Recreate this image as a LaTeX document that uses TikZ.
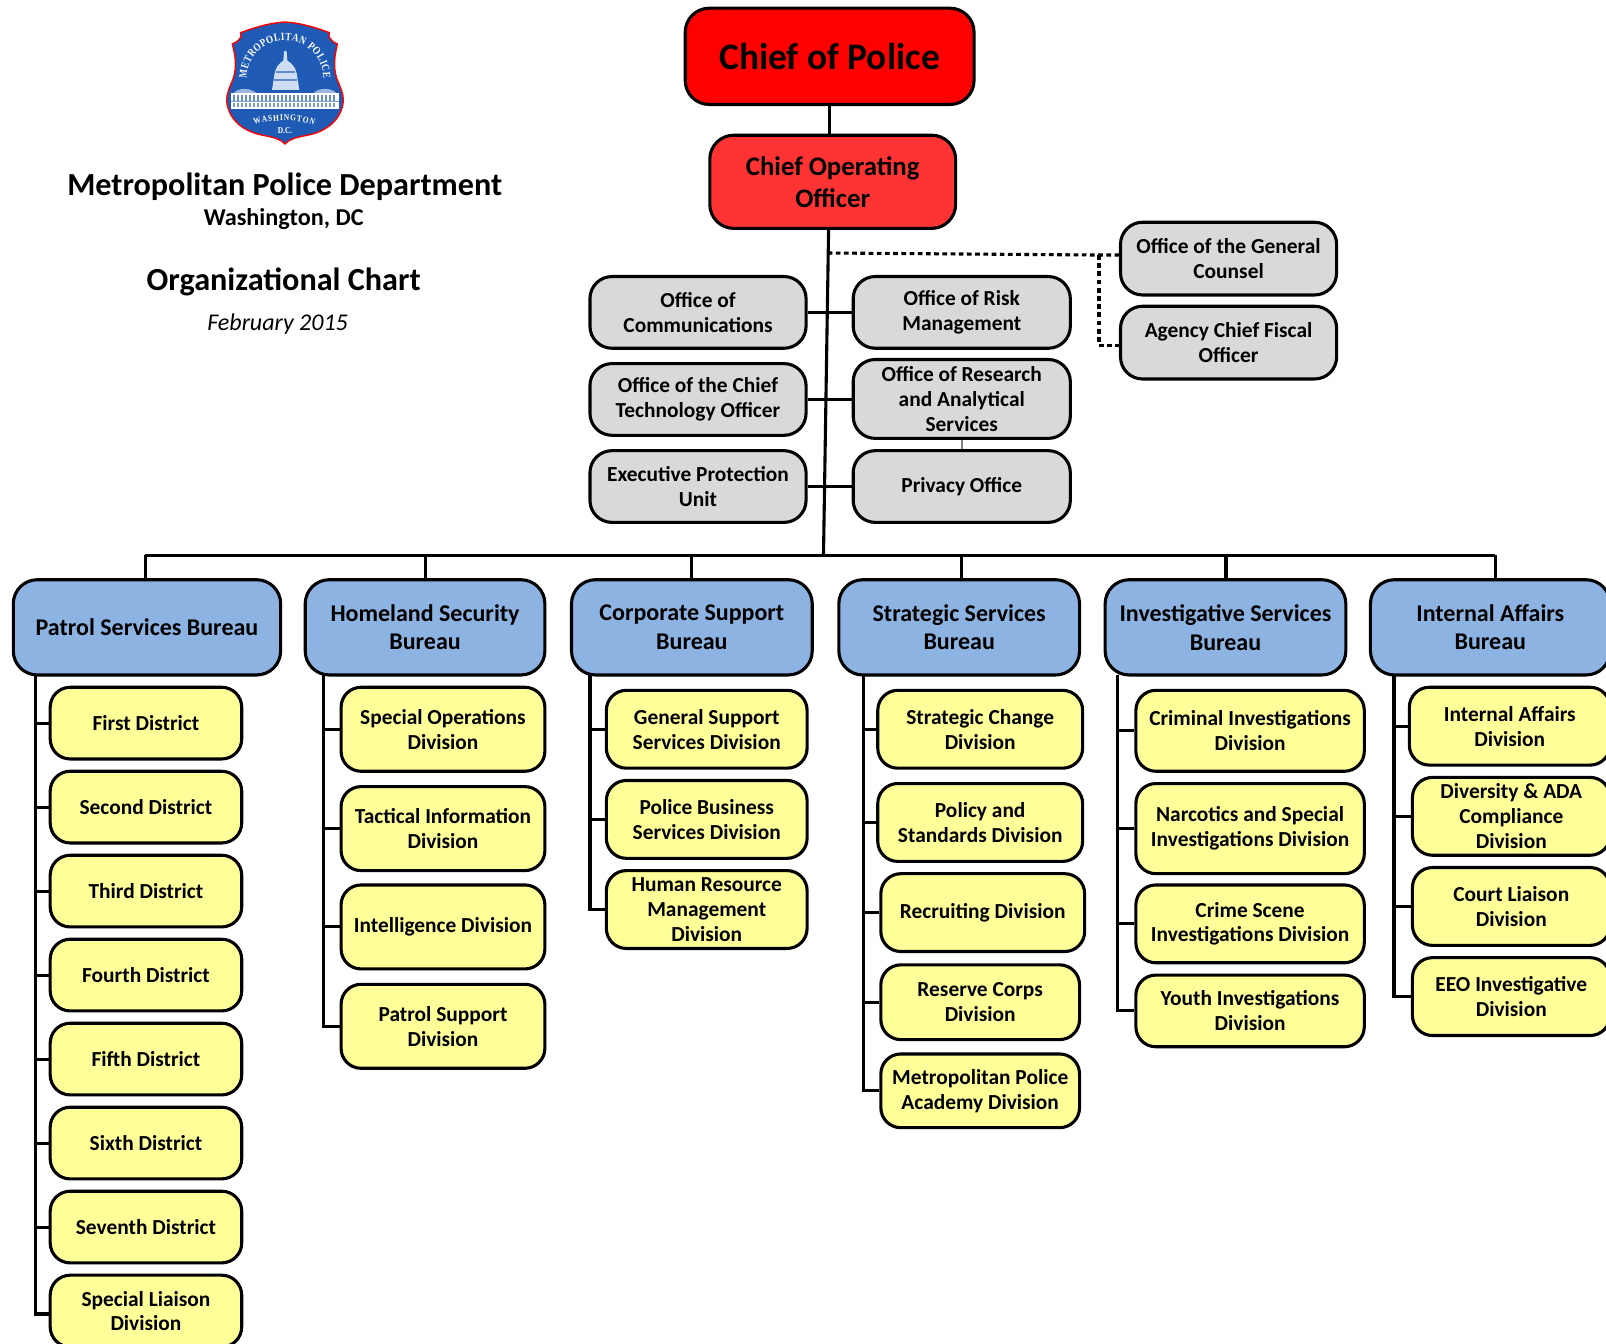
\documentclass[tikz,border=0pt]{standalone}
\usepackage{fontspec}
\setmainfont{Carlito}
\newfontfamily\serifB[FakeStretch=0.82]{Liberation Serif}
\usetikzlibrary{decorations.text}
\definecolor{copred}{HTML}{FF0000}
\definecolor{coored}{HTML}{FF3333}
\definecolor{offgray}{HTML}{D9D9D9}
\definecolor{burblue}{HTML}{8DB3E2}
\definecolor{divyel}{HTML}{FFFF99}
\definecolor{shieldblue}{HTML}{1F5BB5}
\definecolor{shieldpale}{HTML}{CFDDF2}
\tikzset{
 orgbox/.style={draw=black,line width=3.1pt,align=center,inner sep=0pt,font=\bfseries\fontsize{21.4}{24.8}\selectfont},
 cop/.style={orgbox,fill=copred,rounded corners=24pt,font=\bfseries\fontsize{37.4}{40}\selectfont},
 coo/.style={orgbox,fill=coored,rounded corners=24pt,font=\bfseries\fontsize{26.8}{32}\selectfont},
 graybox/.style={orgbox,fill=offgray,rounded corners=22pt},
 burbox/.style={orgbox,fill=burblue,rounded corners=24pt,font=\bfseries\fontsize{24}{28.6}\selectfont},
 yelbox/.style={orgbox,fill=divyel,rounded corners=20pt},
 link/.style={draw=black,line width=3.1pt},
 dashlink/.style={draw=black,line width=3.1pt,dash pattern=on 4.7pt off 3.5pt},
 thinlink/.style={draw=gray,line width=1.6pt},
 titletext/.style={inner sep=0pt,align=center},
 logotext/.style={white},
}
\newcommand{\bx}[7]{%
 \pgfmathsetmacro{\bxw}{(#5-#3)*1.02423}%
 \pgfmathsetmacro{\bxh}{(#6-#4)*1.02423}%
 \pgfmathsetmacro{\bxx}{(#3+#5)/2}%
 \pgfmathsetmacro{\bxy}{(#4+#6)/2}%
 \node[#2,minimum width=\bxw pt,minimum height=\bxh pt] (#1) at (\bxx,\bxy) {#7};}
\newcommand{\lowtxt}[1]{\raisebox{-2pt}{#1}}
\begin{document}
\begin{tikzpicture}[x=1.02423pt,y=-1.02423pt]
\path[use as bounding box] (0,0) rectangle (1568,1312);
\clip (0,0) rectangle (1568,1312);
% coordinates
\coordinate (trunkTop) at (809,223);
\coordinate (trunkBot) at (804,542);
\coordinate (barL) at (142,542);
\coordinate (barR) at (1460,542);
\coordinate (dashA) at (808,247);
\coordinate (dashB) at (1073,249);
\coordinate (dashC) at (1073,337);
\coordinate (busP) at (35,659);
\coordinate (busH) at (316,659);
\coordinate (busC) at (576,659);
\coordinate (busS) at (843,659);
\coordinate (busV) at (1091,659);
\coordinate (busI) at (1361,659);
% links drawn first (boxes on top)
\draw[link] (trunkTop) -- (trunkBot);
\draw[link] (810,102) -- (810,132);
\draw[link] (barL) -- (barR);
\foreach \dx in {142,415,675,939,1197,1460}{\draw[link] (\dx,542) -- (\dx,566);}
\draw[dashlink] (dashA) -- (dashB) -- (1094,249);
\draw[dashlink] (dashB) -- (dashC) -- (1094,337);
% boxes
\bx{chief}{cop}{669}{8}{951}{102}{Chief of Police}
\bx{coop}{coo}{693}{132}{933}{223}{Chief Operating\\Officer}
\bx{ogc}{graybox}{1094}{217}{1305}{288}{Office of the General\\Counsel}
\bx{cfo}{graybox}{1094}{299}{1305}{370}{Agency Chief Fiscal\\Officer}
\bx{comm}{graybox}{576}{270}{787}{340}{Office of\\Communications}
\bx{risk}{graybox}{833}{270}{1045}{340}{Office of Risk\\Management}
\bx{cto}{graybox}{576}{355}{787}{425}{Office of the Chief\\Technology Officer}
\bx{research}{graybox}{833}{351}{1045}{428}{Office of Research\\and Analytical\\Services}
\bx{exec}{graybox}{576}{440}{787}{510}{Executive Protection\\Unit}
\bx{privacy}{graybox}{833}{440}{1045}{510}{\lowtxt{Privacy Office}}
\draw[link] (comm.east) -- (risk.west);
\draw[link] (cto.east) -- (cto.east -| risk.west);
\draw[link] (exec.east) -- (privacy.west);
\draw[thinlink] (research.south) -- (privacy.north);
% bureaus
\bx{bP}{burbox}{13}{566}{274}{659}{Patrol Services Bureau}
\bx{bH}{burbox}{298}{566}{532}{659}{Homeland Security\\Bureau}
\bx{bC}{burbox}{558}{566}{793}{659}{Corporate Support\\Bureau}
\bx{bS}{burbox}{819}{566}{1054}{659}{Strategic Services\\Bureau}
\bx{bV}{burbox}{1079}{566}{1314}{659}{Investigative Services\\Bureau}
\bx{bI}{burbox}{1338}{566}{1572}{659}{Internal Affairs\\Bureau}
% divisions: patrol
\bx{p1}{yelbox}{49}{671}{236}{741}{First District}
\bx{p2}{yelbox}{49}{753}{236}{823}{Second District}
\bx{p3}{yelbox}{49}{835}{236}{905}{Third District}
\bx{p4}{yelbox}{49}{917}{236}{987}{Fourth District}
\bx{p5}{yelbox}{49}{999}{236}{1069}{Fifth District}
\bx{p6}{yelbox}{49}{1081}{236}{1151}{Sixth District}
\bx{p7}{yelbox}{49}{1163}{236}{1233}{Seventh District}
\bx{p8}{yelbox}{49}{1245}{236}{1315}{Special Liaison\\Division}
\coordinate (p8in) at ([yshift=-3pt]p8.west);
\draw[link] (busP) -- (busP |- p8in) -- (p8in);
\foreach \n in {p1,p2,p3,p4,p5,p6,p7}{\draw[link] (\n.west) -- (\n.west -| busP);}
% homeland
\bx{h1}{yelbox}{333}{671}{532}{753}{Special Operations\\Division}
\bx{h2}{yelbox}{333}{768}{532}{850}{Tactical Information\\Division}
\bx{h3}{yelbox}{333}{864}{532}{946}{\lowtxt{Intelligence Division}}
\bx{h4}{yelbox}{333}{961}{532}{1043}{Patrol Support\\Division}
\draw[link] (busH) -- (busH |- h4.west) -- (h4.west);
\foreach \n in {h1,h2,h3}{\draw[link] (\n.west) -- (\n.west -| busH);}
% corporate
\bx{c1}{yelbox}{592}{674}{788}{750}{General Support\\Services Division}
\bx{c2}{yelbox}{592}{762}{788}{838}{Police Business\\Services Division}
\bx{c3}{yelbox}{592}{850}{788}{926}{Human Resource\\Management\\Division}
\draw[link] (busC) -- (busC |- c3.west) -- (c3.west);
\foreach \n in {c1,c2}{\draw[link] (\n.west) -- (\n.west -| busC);}
% strategic
\bx{s1}{yelbox}{857}{674}{1057}{750}{Strategic Change\\Division}
\bx{s2}{yelbox}{857}{765}{1057}{841}{Policy and\\Standards Division}
\bx{s3}{yelbox}{860}{853}{1059}{929}{\lowtxt{Recruiting Division}}
\bx{s4}{yelbox}{860}{942}{1054}{1015}{Reserve Corps\\Division}
\bx{s5}{yelbox}{860}{1029}{1054}{1101}{Metropolitan Police\\Academy Division}
\draw[link] (busS) -- (busS |- s5.west) -- (s5.west);
\foreach \n in {s1,s2,s3,s4}{\draw[link] (\n.west) -- (\n.west -| busS);}
% investigative
\bx{v1}{yelbox}{1109}{674}{1332}{753}{Criminal Investigations\\Division}
\bx{v2}{yelbox}{1109}{765}{1332}{853}{Narcotics and Special\\Investigations Division}
\bx{v3}{yelbox}{1109}{864}{1332}{940}{Crime Scene\\Investigations Division}
\bx{v4}{yelbox}{1109}{952}{1332}{1022}{Youth Investigations\\Division}
\draw[link] (busV) -- (busV |- v4.west) -- (v4.west);
\foreach \n in {v1,v2,v3}{\draw[link] (\n.west) -- (\n.west -| busV);}
% internal affairs
\bx{i1}{yelbox}{1376}{671}{1572}{747}{Internal Affairs\\Division}
\bx{i2}{yelbox}{1379}{759}{1572}{835}{Diversity \& ADA\\Compliance\\Division}
\bx{i3}{yelbox}{1379}{847}{1572}{923}{Court Liaison\\Division}
\bx{i4}{yelbox}{1379}{935}{1572}{1011}{EEO Investigative\\Division}
\draw[link] (busI) -- (busI |- i4.west) -- (i4.west);
\foreach \n in {i1,i2,i3}{\draw[link] (\n.west) -- (\n.west -| busI);}
% titles
\node[titletext,font=\bfseries\fontsize{32.2}{36}\selectfont] (t1) at (278,182) {Metropolitan Police Department};
\node[titletext,font=\bfseries\fontsize{24.2}{28}\selectfont] (t2) at (277,214) {Washington, DC};
\node[titletext,font=\bfseries\fontsize{32.2}{36}\selectfont] (t3) at (277,275) {Organizational Chart};
\node[titletext,font=\itshape\fontsize{24}{28}\selectfont] (t4) at (271,316) {February 2015};
% logo, in units of the 3x crop
\begin{scope}[shift={(200pt,0pt)},x=0.33333pt,y=-0.33333pt]
 \path[fill=shieldblue,draw=red,line width=1.4pt]
  (255,66) .. controls (215,68) and (170,80) .. (122,98)
  .. controls (128,112) and (115,125) .. (97,132)
  .. controls (105,165) and (112,195) .. (100,235)
  .. controls (90,260) and (80,280) .. (80,300)
  .. controls (82,345) and (115,395) .. (200,408)
  .. controls (225,413) and (245,420) .. (255,432)
  .. controls (265,420) and (285,413) .. (310,408)
  .. controls (395,395) and (428,345) .. (430,300)
  .. controls (430,280) and (420,260) .. (410,235)
  .. controls (398,195) and (405,165) .. (412,132)
  .. controls (395,125) and (382,112) .. (388,98)
  .. controls (340,80) and (295,68) .. (255,66) -- cycle;
 % capitol
 \fill[shieldpale] (216,270) -- (222,232) .. controls (225,200) and (240,188) .. (250,182) -- (252,155) -- (256,152) -- (260,155) -- (262,182) .. controls (275,188) and (290,205) .. (292,232) -- (298,270) -- cycle;
 \fill[shieldblue!70!white] (228,212) rectangle (284,218);
 \fill[shieldblue!70!white] (222,236) rectangle (292,244);
 \fill[shieldpale!70!shieldblue] (100,280) .. controls (115,262) and (150,262) .. (170,280) -- cycle;
 \fill[shieldpale!70!shieldblue] (340,280) .. controls (355,262) and (395,262) .. (410,280) -- cycle;
 \fill[white] (92,280) rectangle (418,326);
 \foreach \sx in {100,112,...,408}{\fill[shieldblue!70!white] (\sx,285) rectangle ++(5,18); \fill[shieldblue!60!white] (\sx,310) rectangle ++(4,10);}
 \fill[shieldblue!60!white] (92,303) rectangle (418,307);
 % logo words
 \path[postaction={decorate},decoration={text along path,text align={fit to path},
   text={|\serifB\bfseries\fontsize{11}{12}\selectfont\color{white}|METROPOLITAN POLICE}}]
   (140,236) .. controls (140,172) and (191,121) .. (255,121) .. controls (319,121) and (370,172) .. (370,236);
 \path[postaction={decorate},decoration={text along path,text align={fit to path},
   text={|\serifB\bfseries\fontsize{9}{10}\selectfont\color{white}|WASHINGTON}}]
   (163,375) .. controls (205,358) and (300,358) .. (342,375);
 \node[inner sep=0pt,font=\serifB\bfseries\fontsize{9}{10}\selectfont,logotext] (dc) at (255,393) {D.C.};
\end{scope}
\end{tikzpicture}
\end{document}
